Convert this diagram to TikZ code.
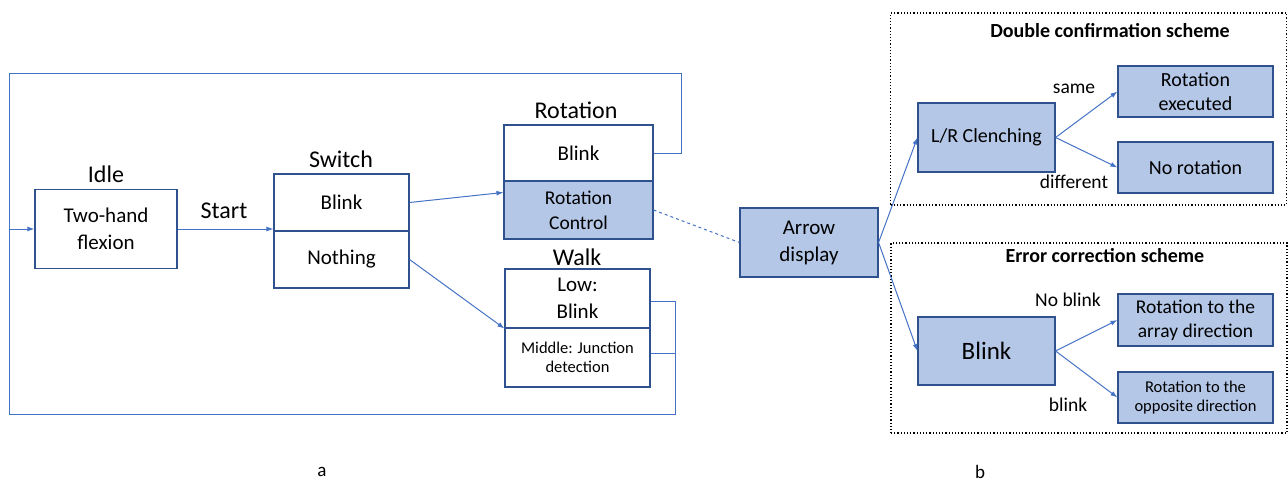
\documentclass[tikz,border=0pt]{standalone}
\usepackage{fontspec}
\setmainfont{Carlito}
\usetikzlibrary{arrows.meta,calc}
\definecolor{fillb}{HTML}{B4C7E7}
\definecolor{edgeb}{HTML}{2F528F}
\definecolor{linkb}{HTML}{4472C4}
\newcommand{\fsz}[2]{\fontsize{#1}{#2}\selectfont}
\begin{document}
\begin{tikzpicture}[x=1pt,y=-1pt,
  wbox/.style={draw=edgeb, line width=1.1pt, fill=white, inner sep=0pt, align=center},
  bbox/.style={wbox, fill=fillb},
  link/.style={draw=linkb, line width=1pt, -{Latex[length=7pt,width=5pt]}},
  plainlink/.style={draw=linkb, line width=1pt},
  head/.style={font=\fsz{24}{28}},
  body/.style={font=\fsz{21}{27}},
  rbody/.style={font=\fsz{20}{24}},
  small/.style={font=\fsz{16.5}{19}},
  lbl/.style={font=\fsz{19.5}{23}},
  ttl/.style={font=\bfseries\fsz{20}{24}},
  frame/.style={draw=black, line width=1.2pt, dotted}]
\useasboundingbox (0,0) rectangle (1288,482);

% ---------- part a ----------
\node[wbox, body, minimum width=142pt, minimum height=79pt] (idle) at (106,229) {Two-hand\\flexion};
\node[head] (idleL) at (106,174) {Idle};

\node[wbox, body, minimum width=135pt, minimum height=57pt] (swTop) at (341.5,202.5) {Blink};
\node[wbox, body, minimum width=135pt, minimum height=57pt] (swBot) at (341.5,259.5) {Nothing};
\node[head] (swL) at (341,159) {Switch};

\node[wbox, body, minimum width=149pt, minimum height=56pt] (rotTop) at (578.5,153) {Blink};
\node[bbox, font=\fsz{19.5}{25}, minimum width=149pt, minimum height=58pt] (rotBot) at (578.5,210) {Rotation\\Control};
\node[head] (rotL) at (576,110) {Rotation};

\node[wbox, body, minimum width=145pt, minimum height=59pt] (wkTop) at (577.5,298.5) {Low:\\Blink};
\node[wbox, small, minimum width=145pt, minimum height=59pt] (wkBot) at (577.5,357.5) {Middle: Junction\\detection};
\node[head] (wkL) at (577,257) {Walk};

\node[head] (startL) at (224,211) {Start};

\coordinate (loopTR) at (681,73);
\coordinate (loopTL) at (9,73);
\coordinate (loopBL) at (9,414);
\coordinate (loopBR) at (675,414);
\coordinate (wkR1) at (675,301);
\coordinate (wkR2) at (675,353);

\draw[link] (idle.east) -- (idle.east -| swTop.west);
\draw[link] (swTop.east) -- ($(rotBot.north west)+(0,12)$);
\draw[link] (swBot.east) -- (wkTop.south west);
\draw[plainlink] (rotTop.east) -| (loopTR) -- (loopTL) -- (loopBL);
\draw[link] (loopTL) |- (idle.west);
\draw[plainlink] (wkTop.east |- wkR1) -- (wkR1) -- (loopBR) -- (loopBL);
\draw[plainlink] (wkBot.east |- wkR2) -- (wkR2);

% ---------- part b ----------
\node[bbox, body, minimum width=138pt, minimum height=69pt] (arrow) at (809,242.5) {Arrow\\display};

\node[frame, minimum width=396pt, minimum height=192pt, inner sep=0pt] (dcs) at (1088.5,109) {};
\node[ttl] (dcsL) at (1110,31) {Double confirmation scheme};
\node[bbox, rbody, minimum width=137pt, minimum height=69pt] (lr) at (986.5,137.5) {L/R Clenching};
\node[bbox, rbody, minimum width=155pt, minimum height=51pt] (rexe) at (1195.5,91.5) {Rotation\\executed};
\node[bbox, rbody, minimum width=155pt, minimum height=51pt] (nrot) at (1195.5,167.5) {No rotation};
\node[lbl] (sameL) at (1074,89) {same};
\node[lbl] (diffL) at (1074,182) {different};

\node[frame, minimum width=396pt, minimum height=190pt, inner sep=0pt] (ecs) at (1089,338) {};
\node[ttl] (ecsL) at (1105,256) {Error correction scheme};
\node[bbox, font=\fsz{25}{30}, minimum width=137pt, minimum height=68pt] (blink) at (986.5,351) {Blink};
\node[bbox, font=\fsz{19.5}{24}, minimum width=155pt, minimum height=52pt] (rarr) at (1195.5,320) {Rotation to the\\array direction};
\node[bbox, small, minimum width=155pt, minimum height=51pt] (ropp) at (1195.5,397.5) {Rotation to the\\opposite direction};
\node[lbl] (nbL) at (1068,300) {No blink};
\node[lbl] (bL) at (1068,405) {blink};

\draw[plainlink, dashed] (rotBot.east) -- (arrow.west);
\draw[link] (arrow.east) -- (lr.west);
\draw[link] (arrow.east) -- (blink.west);
\draw[link] (lr.east) -- (rexe.west);
\draw[link] (lr.east) -- (nrot.west);
\draw[link] (blink.east) -- (rarr.west);
\draw[link] (blink.east) -- (ropp.west);

\node[font=\fsz{19}{23}] (aL) at (322,472) {a};
\node[font=\fsz{19}{23}] (bLab) at (980,472) {b};
\end{tikzpicture}
\end{document}
